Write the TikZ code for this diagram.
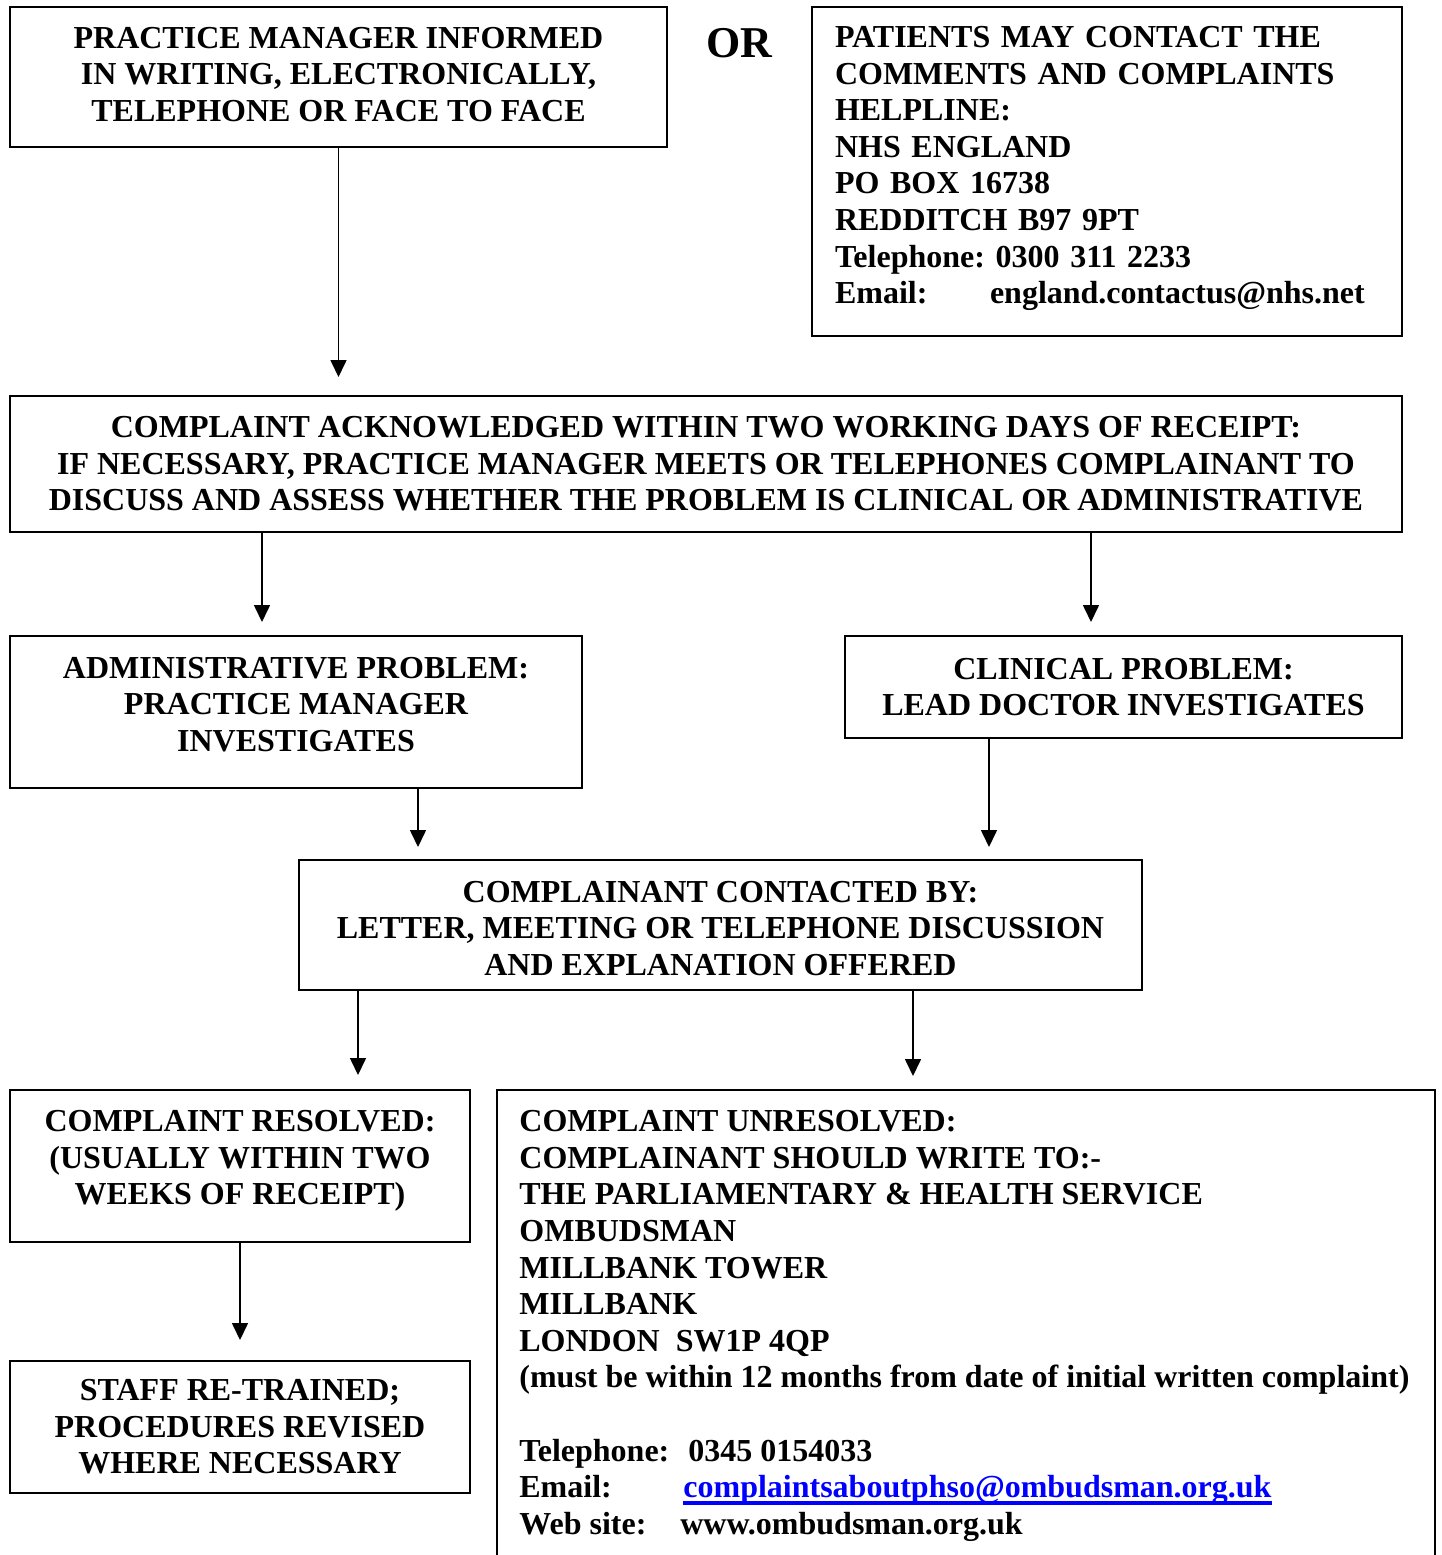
\documentclass[tikz,border=0pt]{standalone}
\usepackage{fontspec}
\setmainfont{Liberation Serif}
\usetikzlibrary{arrows.meta}
\tikzset{box/.style = {draw, line width = 1pt, align = center, inner sep = 0pt}}
\tikzset{flow/.style = {line width = 0.8pt, -{Triangle[width = 8pt, length = 8.5pt]},
                        shorten > = 7pt}}
\tikzset{txt/.style = {font = \fontsize{16}{18.3}\selectfont\bfseries\frenchspacing}}
\newcommand{\dropstrut}[1]{\rule[-#1]{0pt}{#1}}
\newcommand{\bluelink}[1]{{\color{blue}\setbox0\hbox{#1}%
    \rlap{\rule[-3.5pt]{\wd0}{1.8pt}}\box0}}

\begin{document}
\begin{tikzpicture}[x = 0.5pt, y = -0.5pt, every node/.style = {txt}]
    \useasboundingbox (0, 0) rectangle (1442, 1555);

    \node [box, minimum width = 328.5pt, minimum height = 70pt] (informed) at (338.5, 77)
        {PRACTICE MANAGER INFORMED\\ IN WRITING, ELECTRONICALLY,\\
         TELEPHONE OR FACE TO FACE\dropstrut{3pt}};
    \node [font = \fontsize{22}{26}\selectfont\bfseries] (or) at (739, 43) {OR};
    \node [box, align = left, text width = 272pt, inner xsep = 11.5pt, minimum height = 164.5pt]
        (helpline) at (1107, 171.5)
        {PATIENTS MAY CONTACT THE\\ COMMENTS AND COMPLAINTS\\ HELPLINE:\\ NHS ENGLAND\\
         PO BOX 16738\\ REDDITCH B97 9PT\\ Telephone: 0300 311 2233\\
         \makebox[77.5pt][l]{Email:}england.contactus@nhs.net\dropstrut{6.5pt}};

    \node [box, minimum width = 696pt, minimum height = 68pt] (ack) at (706, 464)
        {COMPLAINT ACKNOWLEDGED WITHIN TWO WORKING DAYS OF RECEIPT:\\
         IF NECESSARY, PRACTICE MANAGER MEETS OR TELEPHONES COMPLAINANT TO\\
         DISCUSS AND ASSESS WHETHER THE PROBLEM IS CLINICAL OR ADMINISTRATIVE};

    \node [box, minimum width = 286pt, minimum height = 76pt] (admin) at (296, 712)
        {ADMINISTRATIVE PROBLEM:\\ PRACTICE MANAGER\\ INVESTIGATES\dropstrut{8pt}};
    \node [box, minimum width = 278.5pt, minimum height = 51pt] (clinical) at (1123.5, 687)
        {CLINICAL PROBLEM:\\ LEAD DOCTOR INVESTIGATES};

    \node [box, minimum width = 421.5pt, minimum height = 65pt] (contact) at (720.5, 925)
        {\rule{0pt}{14pt}COMPLAINANT CONTACTED BY:\\ LETTER, MEETING OR TELEPHONE DISCUSSION\\
         AND EXPLANATION OFFERED};

    \node [box, minimum width = 230pt, minimum height = 76pt] (resolved) at (240, 1166)
        {COMPLAINT RESOLVED:\\ (USUALLY WITHIN TWO\\ WEEKS OF RECEIPT)\dropstrut{8.5pt}};
    \node [box, minimum width = 230pt, minimum height = 66pt] (retrained) at (240, 1427)
        {STAFF RE-TRAINED;\\ PROCEDURES REVISED\\ WHERE NECESSARY};

    \node [align = left, inner xsep = 11pt, inner ysep = 10pt, anchor = north west]
        (unresolved) at (497, 1090)
        {COMPLAINT UNRESOLVED:\\ COMPLAINANT SHOULD WRITE TO:-\\
         THE PARLIAMENTARY \& HEALTH SERVICE\\ OMBUDSMAN\\ MILLBANK TOWER\\ MILLBANK\\
         LONDON\ \ SW1P 4QP\\
         (must be within 12 months from date of initial written complaint)\\[18.3pt]
         \makebox[84.5pt][l]{Telephone:}0345 0154033\\
         \makebox[82pt][l]{Email:}\bluelink{complaintsaboutphso@ombudsman.org.uk}\\
         \makebox[80.5pt][l]{Web site:}www.ombudsman.org.uk};

    % open frame round the ombudsman text, cut by the page edge
    \coordinate (pagebottom) at (0, 1555);
    \coordinate (hright) at (1435, 1090);
    \draw [line width = 1pt] (unresolved.north west |- pagebottom) -- (unresolved.north west)
        -- (hright) -- (hright |- pagebottom);

    % where the arrows leave the boxes
    \coordinate (xadmin) at (262, 0);
    \coordinate (xclin) at (1091, 0);
    \coordinate (xfromadmin) at (418, 0);
    \coordinate (xfromclin) at (989, 0);
    \coordinate (xres) at (358, 0);
    \coordinate (xunres) at (913, 0);

    \draw [flow, shorten > = 9pt] (informed.south) -- (informed.south |- ack.north);
    \draw [flow, shorten > = 6.5pt] (ack.south -| xadmin) -- (admin.north -| xadmin);
    \draw [flow, shorten > = 6.5pt] (ack.south -| xclin) -- (clinical.north -| xclin);
    \draw [flow, shorten > = 6pt] (admin.south -| xfromadmin) -- (contact.north -| xfromadmin);
    \draw [flow, shorten > = 6pt] (clinical.south -| xfromclin) -- (contact.north -| xfromclin);
    \draw [flow] (contact.south -| xres) -- (resolved.north -| xres);
    \draw [flow] (contact.south -| xunres) -- (unresolved.north -| xunres);
    \draw [flow, shorten > = 10pt] (resolved.south) -- (retrained.north);
\end{tikzpicture}
\end{document}
